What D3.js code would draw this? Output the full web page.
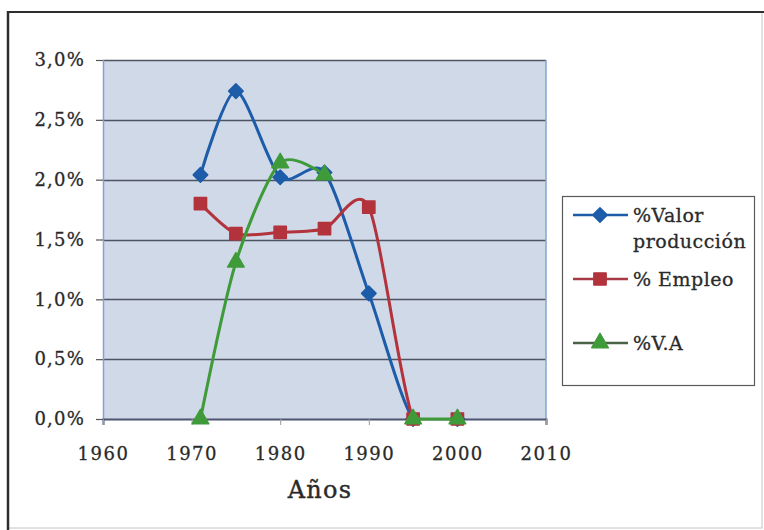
<!DOCTYPE html>
<html>
<head>
<meta charset="utf-8">
<script src="https://cdn.jsdelivr.net/npm/d3@7"></script>
<style>
  html, body { margin: 0; padding: 0; background: #ffffff; }
  svg { display: block; }
  text { font-family: "DejaVu Serif", "Liberation Serif", serif; fill: #2a2a2a; }
</style>
</head>
<body>
<svg id="chart" width="764" height="530"></svg>
<script>
// Data
const years = [1971, 1975, 1980, 1985, 1990, 1995, 2000];
const valorProduccion = [0.0204, 0.0274, 0.0202, 0.0206, 0.0105, 0, 0];
const empleo = [0.0180, 0.0155, 0.0156, 0.0159, 0.0177, 0, 0];
const valorAnadido = [0, 0.0131, 0.0214, 0.0204, null, 0, 0];

const seriesNames = ["%Valor\nproducción", "% Empleo", "%V.A"];
const xTicks = [1960, 1970, 1980, 1990, 2000, 2010];
const yTicks = [0, 0.005, 0.01, 0.015, 0.02, 0.025, 0.03];

const series = [
    { name: seriesNames[0], values: valorProduccion, color: "#1d5ca8", legendLine: "#1d5ca8", marker: "diamond" },
    { name: seriesNames[1], values: empleo, color: "#b3333c", legendLine: "#a83a44", marker: "square" },
    { name: seriesNames[2], values: valorAnadido, color: "#3f9b3a", legendLine: "#4c6248", marker: "triangle" }
];

const svg = d3.select("#chart");

/* ------------------------------------------------------------------
   Frame
------------------------------------------------------------------ */

svg.append("rect")
    .attr("x", 8).attr("y", 12)
    .attr("width", 754).attr("height", 516)
    .attr("fill", "#ffffff")
    .attr("stroke", "#c4c4c4")
    .attr("stroke-width", 1);
svg.append("line")
    .attr("x1", 8).attr("x2", 764).attr("y1", 12).attr("y2", 12)
    .attr("stroke", "#2e2e2e").attr("stroke-width", 2);
svg.append("line")
    .attr("x1", 8).attr("x2", 8).attr("y1", 11).attr("y2", 530)
    .attr("stroke", "#2e2e2e").attr("stroke-width", 2.5);

/* ------------------------------------------------------------------
   Scales
------------------------------------------------------------------ */

const plot = { left: 103, top: 60, right: 546, bottom: 419 };

const x = d3.scaleLinear().domain([1960, 2010]).range([plot.left, plot.right]);
const y = d3.scaleLinear().domain([0, 0.03]).range([plot.bottom, plot.top]);

svg.append("defs").append("clipPath")
    .attr("id", "plotClip")
    .append("rect")
    .attr("x", plot.left).attr("y", plot.top - 10)
    .attr("width", plot.right - plot.left)
    .attr("height", plot.bottom - plot.top + 12);

// plot background
svg.append("rect")
    .attr("x", plot.left).attr("y", plot.top)
    .attr("width", plot.right - plot.left)
    .attr("height", plot.bottom - plot.top)
    .attr("fill", "#d0d9e8");

// gridlines
svg.append("g")
    .selectAll("line")
    .data(yTicks.filter(d => d > 0))
    .enter()
    .append("line")
    .attr("x1", plot.left).attr("x2", plot.right)
    .attr("y1", d => Math.round(y(d)) + 0.5)
    .attr("y2", d => Math.round(y(d)) + 0.5)
    .attr("stroke", "#4e5562")
    .attr("stroke-width", 1.4);

// plot side borders
svg.append("line")
    .attr("x1", plot.left + 0.5).attr("x2", plot.left + 0.5)
    .attr("y1", plot.top).attr("y2", plot.bottom)
    .attr("stroke", "#86a3cf").attr("stroke-width", 1.5);
svg.append("line")
    .attr("x1", plot.right).attr("x2", plot.right)
    .attr("y1", plot.top).attr("y2", plot.bottom)
    .attr("stroke", "#86a3cf").attr("stroke-width", 1.5);

/* ------------------------------------------------------------------
   Axes
------------------------------------------------------------------ */

const fmtPct = d => d3.format(".1f")(d * 100).replace(".", ",") + "%";

const yAxis = svg.append("g")
    .attr("transform", `translate(${plot.left},0)`)
    .call(d3.axisLeft(y).tickValues(yTicks).tickFormat(fmtPct).tickSize(7).tickPadding(11));
yAxis.select(".domain").remove();
yAxis.selectAll(".tick line").attr("stroke", "#555").attr("stroke-width", 1.2);
yAxis.selectAll(".tick text")
    .attr("font-size", 18)
    .attr("fill", "#2a2a2a")
    .attr("stroke", "#2a2a2a")
    .attr("stroke-width", 0.3)
    .attr("letter-spacing", 1.2)
    .style("font-family", "'DejaVu Serif', serif");

const xAxis = svg.append("g")
    .attr("transform", `translate(0,${plot.bottom})`)
    .call(d3.axisBottom(x).tickValues(xTicks).tickFormat(d3.format("d")).tickSize(6).tickPadding(22));
xAxis.select(".domain")
    .attr("stroke", "#4c5570")
    .attr("stroke-width", 2);
xAxis.selectAll(".tick line").attr("stroke", "#9a9a9a").attr("stroke-width", 1);
xAxis.selectAll(".tick text")
    .attr("font-size", 18)
    .attr("fill", "#2a2a2a")
    .attr("stroke", "#2a2a2a")
    .attr("stroke-width", 0.3)
    .attr("letter-spacing", 1.5)
    .style("font-family", "'DejaVu Serif', serif");

svg.append("text")
    .attr("x", 320).attr("y", 498)
    .attr("text-anchor", "middle")
    .attr("font-size", 24)
    .attr("stroke", "#2a2a2a")
    .attr("stroke-width", 0.4)
    .attr("letter-spacing", 1.2)
    .text("Años");

/* ------------------------------------------------------------------
   Series
------------------------------------------------------------------ */

const line = d3.line()
    .defined(d => d.v !== null)
    .x(d => x(d.year))
    .y(d => y(d.v))
    .curve(d3.curveCardinal.tension(0.2));

const markerPath = {
    diamond: d3.symbol().type(d3.symbolSquare).size(105),
    square: d3.symbol().type(d3.symbolSquare).size(150),
    triangle: d3.symbol().type(d3.symbolTriangle).size(120)
};
const markerRotate = { diamond: 45, square: 0, triangle: 0 };

const seriesGroup = svg.append("g");

series.forEach(s => {
    const pts = years.map((yr, i) => ({ year: yr, v: s.values[i] }));

    seriesGroup.append("path")
        .datum(pts)
        .attr("clip-path", "url(#plotClip)")
        .attr("fill", "none")
        .attr("stroke", s.color)
        .attr("stroke-width", 3)
        .attr("stroke-linejoin", "round")
        .attr("d", line);

    seriesGroup.append("g")
        .selectAll("path")
        .data(pts.filter(d => d.v !== null))
        .enter()
        .append("path")
        .attr("transform", d => `translate(${x(d.year)},${y(d.v)}) rotate(${markerRotate[s.marker]})`)
        .attr("d", markerPath[s.marker]())
        .attr("fill", s.color)
        .attr("stroke", s.color)
        .attr("stroke-width", 1.5)
        .attr("stroke-linejoin", "round");
});

/* ------------------------------------------------------------------
   Legend
------------------------------------------------------------------ */

const legend = svg.append("g");

legend.append("rect")
    .attr("x", 562.5).attr("y", 196.5)
    .attr("width", 192).attr("height", 189)
    .attr("fill", "#ffffff")
    .attr("stroke", "#5a5a5a")
    .attr("stroke-width", 1.2);

const legendRows = [215, 279, 343];

series.forEach((s, i) => {
    const ly = legendRows[i];
    legend.append("line")
        .attr("x1", 573).attr("x2", 628)
        .attr("y1", ly).attr("y2", ly)
        .attr("stroke", s.legendLine)
        .attr("stroke-width", 2.5);
    legend.append("path")
        .attr("transform", `translate(600,${ly}) rotate(${markerRotate[s.marker]})`)
        .attr("d", markerPath[s.marker]())
        .attr("fill", s.color)
        .attr("stroke", s.color)
        .attr("stroke-width", 1.5)
        .attr("stroke-linejoin", "round");

    const lines = s.name.split("\n");
    const t = legend.append("text")
        .attr("x", 633)
        .attr("y", ly + 7)
        .attr("font-size", 19)
        .attr("stroke", "#2a2a2a")
        .attr("stroke-width", 0.3)
        .attr("letter-spacing", 0.5);
    lines.forEach((ln, j) => {
        t.append("tspan")
            .attr("x", 633)
            .attr("dy", j === 0 ? 0 : 26)
            .text(ln);
    });
});
</script>
</body>
</html>
